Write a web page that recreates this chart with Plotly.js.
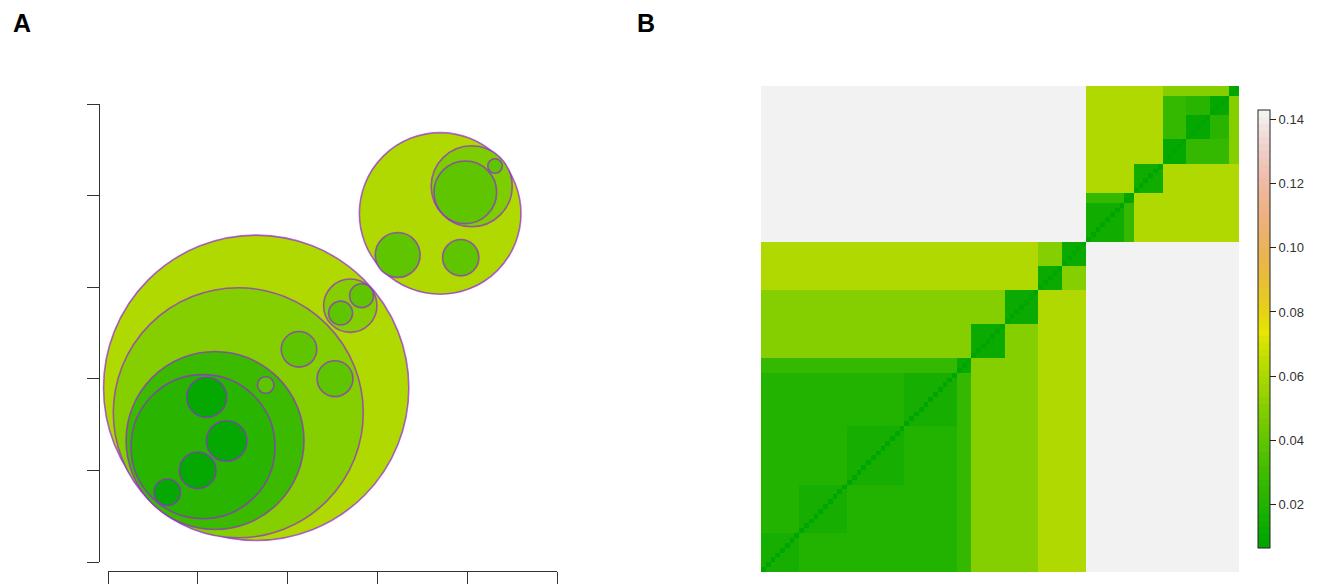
<!DOCTYPE html>
<html>
<head>
<meta charset="utf-8">
<script src="https://cdn.plot.ly/plotly-3.0.1.min.js"></script>
<style>html,body{margin:0;padding:0;background:#fff;}#chart{width:1326px;height:586px;}</style>
</head>
<body>
<div id="chart"></div>
<script>
// ---------------- DATA ----------------
// Panel A: circle packing (centres and radii in axis units; x ticks and y ticks at 0..5)
const circleName  = ['C1','A2','A3','A4','A4k1','A4k2','A4k3','A4k4','A3s','A2k1','A2k2','G','Gk1','Gk2','C2','B2','B3','B2s','P1','P2'];
const circleX     = [1.650,1.451,1.192,1.058,1.099,1.321,0.999,0.660,1.756,2.127,2.528,2.698,2.824,2.590,3.699,4.050,3.979,4.310,3.226,3.928];
const circleY     = [1.902,1.629,1.326,1.259,1.798,1.321,1.001,0.761,1.932,2.322,2.001,2.798,2.907,2.718,3.805,4.102,4.036,4.323,3.352,3.322];
const circleR     = [1.700,1.392,0.991,0.802,0.223,0.226,0.204,0.148,0.092,0.198,0.200,0.297,0.133,0.133,0.900,0.451,0.349,0.081,0.250,0.202];
const circleValue = [0.0600,0.0505,0.0300,0.0215,0.0100,0.0100,0.0100,0.0100,0.0395,0.0400,0.0400,0.0505,0.0400,0.0400,0.0600,0.0480,0.0400,0.0400,0.0400,0.0400];

// Panel B: ultrametric distance matrix, described by leaf groups and tree nodes
const groupName   = ['a4k1','a4k2','a4k3','a4k4','a3s','a2k1','a2k2','gk1','gk2','p1a','p1b','p2','b3k1','b3k2','b3k3','b2s'];
const groupSize   = [8,10,12,11,3,7,7,5,5,8,2,6,5,5,4,2];
const groupPath   = ['C1/A2/A3/A4','C1/A2/A3/A4','C1/A2/A3/A4','C1/A2/A3/A4','C1/A2/A3','C1/A2','C1/A2','C1/G','C1/G','C2/P1','C2/P1','C2','C2/B2/B3','C2/B2/B3/B3b','C2/B2/B3/B3b','C2/B2'];
const groupWithin = [0.0170,0.0170,0.0170,0.0170,0.0120,0.0110,0.0110,0.0110,0.0110,0.0140,0.0100,0.0130,0.0090,0.0090,0.0090,0.0100];
const nodeName    = ['root','C1','A2','A3','A4','G','C2','P1','B2','B3','B3b'];
const nodeHeight  = [0.1428,0.0600,0.0505,0.0260,0.0200,0.0505,0.0600,0.0260,0.0505,0.0260,0.0220];
const diagValue   = 0.0066;
const zMin = 0.0066, zMax = 0.1428;
const cbTicks = [0.02,0.04,0.06,0.08,0.10,0.12,0.14];

// ---------------- COLOURS (R terrain.colors) ----------------
function hsv(h,s,v){
  let i=Math.floor(h*6), f=h*6-i; if(i>=6){i=5;f=1;}
  const p=v*(1-s), q=v*(1-f*s), t=v*(1-(1-f)*s);
  let r,g,b;
  switch(i){case 0:r=v;g=t;b=p;break;case 1:r=q;g=v;b=p;break;case 2:r=p;g=v;b=t;break;
    case 3:r=p;g=q;b=v;break;case 4:r=t;g=p;b=v;break;default:r=v;g=p;b=q;}
  const c=x=>Math.round(255*x).toString(16).padStart(2,'0');
  return '#'+c(r)+c(g)+c(b);
}
function seq(a,b,n){const o=[];for(let i=0;i<n;i++)o.push(n===1?a:a+(b-a)*i/(n-1));return o;}
function terrain(n){
  const k=Math.floor(n/2), out=[];
  const h1=seq(4/12,2/12,k), v1=seq(0.65,0.9,k);
  for(let i=0;i<k;i++)out.push(hsv(h1[i],1,v1[i]));
  const m=n-k+1, h2=seq(2/12,0,m), s2=seq(1,0,m), v2=seq(0.9,0.95,m);
  for(let i=1;i<m;i++)out.push(hsv(h2[i],s2[i],v2[i]));
  return out;
}
const NCOL=64;
const tcols=terrain(NCOL);
const colorscale=[];
tcols.forEach((c,i)=>{colorscale.push([i/NCOL,c]);colorscale.push([(i+1)/NCOL,c]);});
function colorFor(v){let i=Math.floor((v-zMin)/(zMax-zMin)*NCOL);i=Math.max(0,Math.min(NCOL-1,i));return tcols[i];}

// ---------------- MATRIX ----------------
const itemGroup=[];
groupSize.forEach((s,g)=>{for(let i=0;i<s;i++)itemGroup.push(g);});
const N=itemGroup.length;
function lca(gi,gj){
  const a=groupPath[gi].split('/'), b=groupPath[gj].split('/');
  let common=null;
  for(let k=0;k<Math.min(a.length,b.length);k++){if(a[k]===b[k])common=a[k];else break;}
  return common?nodeHeight[nodeName.indexOf(common)]:nodeHeight[0];
}
const z=[];
for(let r=0;r<N;r++){const row=[];for(let c=0;c<N;c++){
  let v; if(r===c)v=diagValue; else if(itemGroup[r]===itemGroup[c])v=groupWithin[itemGroup[r]]; else v=lca(itemGroup[r],itemGroup[c]);
  row.push(v);} z.push(row);}
const idx=[...Array(N).keys()];

// ---------------- LAYOUT ----------------
const W=1326,H=586;
const px=v=>v/W, py=v=>1-v/H;
// tick frame for panel A (pixels)
const AX0=108, AX1=557, AYB=562, AYT=104;
const pxX=(AX1-AX0)/5, pxY=(AYB-AYT)/5;
// drawing area for circles (pixels)
const DL=70, DR=640, DT=80, DB=586;
const ky=pxX/pxY;

const shapes=circleName.map((n,i)=>({
  type:'circle', xref:'x3', yref:'y3', layer:'above',
  x0:circleX[i]-circleR[i], x1:circleX[i]+circleR[i],
  y0:circleY[i]-circleR[i]*ky, y1:circleY[i]+circleR[i]*ky,
  fillcolor:colorFor(circleValue[i]),
  line:{color:'rgba(150,40,215,0.72)', width:1.6}
}));

const traces=[
  {type:'scatter', x:[], y:[], xaxis:'x', yaxis:'y', hoverinfo:'skip', showlegend:false},
  {type:'scatter', x:[], y:[], xaxis:'x3', yaxis:'y3', hoverinfo:'skip', showlegend:false},
  {type:'heatmap', x:idx, y:idx, z:z, xaxis:'x4', yaxis:'y4', zmin:zMin, zmax:zMax,
   colorscale:colorscale, hoverinfo:'skip', zsmooth:false,
   colorbar:{x:px(1258), xanchor:'left', xpad:0, y:py(329), yanchor:'middle', ypad:0,
     len:438, lenmode:'pixels', thickness:12, thicknessmode:'pixels',
     outlinecolor:'#222', outlinewidth:1, ticks:'outside', ticklen:6, tickcolor:'#222', tickwidth:1,
     tickvals:cbTicks, tickformat:'.2f', tickfont:{family:'Liberation Sans, Arial, sans-serif', size:13, color:'#333'}}}
];

const noAxis={showline:false, showticklabels:false, ticks:'', showgrid:false, zeroline:false};
const layout={
  width:W, height:H, margin:{l:0,r:0,t:0,b:0}, paper_bgcolor:'#fff', plot_bgcolor:'rgba(0,0,0,0)',
  showlegend:false,
  xaxis:{domain:[px(AX0),px(AX1)], range:[0,5], anchor:'free', position:py(571),
    showline:true, linecolor:'#333', linewidth:1, ticks:'outside', ticklen:12, tickwidth:1, tickcolor:'#333',
    tickvals:[0,1,2,3,4,5], showticklabels:false, showgrid:false, zeroline:false, fixedrange:true},
  yaxis:{domain:[py(AYB),py(AYT)], range:[0,5], anchor:'free', position:px(99),
    showline:true, linecolor:'#333', linewidth:1, ticks:'outside', ticklen:12, tickwidth:1, tickcolor:'#333',
    tickvals:[0,1,2,3,4,5], showticklabels:false, showgrid:false, zeroline:false, fixedrange:true},
  xaxis3:Object.assign({domain:[px(DL),px(DR)], range:[(DL-AX0)/pxX,(DR-AX0)/pxX], anchor:'y3'},noAxis),
  yaxis3:Object.assign({domain:[py(DB),py(DT)], range:[(AYB-DB)/pxY,(AYB-DT)/pxY], anchor:'x3'},noAxis),
  xaxis4:Object.assign({domain:[px(761),px(1239)], range:[-0.5,N-0.5], anchor:'y4'},noAxis),
  yaxis4:Object.assign({domain:[py(572),py(86)], range:[-0.5,N-0.5], anchor:'x4'},noAxis),
  shapes:shapes,
  annotations:[
    {text:'<b>A</b>', xref:'paper', yref:'paper', x:px(22), y:py(23), xanchor:'center', yanchor:'middle', showarrow:false,
     font:{family:'Liberation Sans, Arial, sans-serif', size:25, color:'#000'}},
    {text:'<b>B</b>', xref:'paper', yref:'paper', x:px(646), y:py(23), xanchor:'center', yanchor:'middle', showarrow:false,
     font:{family:'Liberation Sans, Arial, sans-serif', size:25, color:'#000'}}
  ]
};
Plotly.newPlot('chart', traces, layout, {staticPlot:true, displayModeBar:false});
</script>
</body>
</html>
